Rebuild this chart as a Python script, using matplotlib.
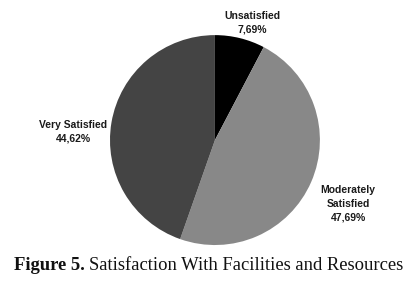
import matplotlib
matplotlib.use('Agg')
import matplotlib.pyplot as plt

# 데이터
categories = ['Unsatisfied', 'Moderately\nSatisfied', 'Very Satisfied']
values = [7.69, 47.69, 44.62]
value_labels = ['7,69%', '47,69%', '44,62%']
colors = ['#000000', '#888888', '#444444']

fig = plt.figure(figsize=(4.19, 2.90), dpi=100)
ax = fig.add_axes([0.2625, 0.155, 0.501, 0.724])

ax.pie(values, colors=colors, startangle=90, counterclock=False,
       wedgeprops={'linewidth': 0})
ax.set_xlim(-1, 1)
ax.set_ylim(-1, 1)
ax.set_aspect('equal')

label_font = {'family': ['Liberation Sans Narrow', 'Liberation Sans', 'DejaVu Sans'],
              'weight': 'bold', 'size': 7.5, 'color': '#1a1a1a'}
label_pos = [(0.36, 1.12), (1.27, -0.61), (-1.35, 0.08)]
for cat, lab, (x, y) in zip(categories, value_labels, label_pos):
    ax.text(x, y, f'{cat}\n{lab}', ha='center', va='center',
            linespacing=1.45, clip_on=False, **label_font)

# 캡션
serif = ['Liberation Serif', 'DejaVu Serif']
t1 = fig.text(0.034, 0.085, 'Figure 5.', fontsize=13.4, fontweight='bold',
              family=serif, va='center', color='#111111')
fig.canvas.draw()
bb = t1.get_window_extent()
x_next = (bb.x1 + 4) / fig.bbox.width
fig.text(x_next, 0.085, 'Satisfaction With Facilities and Resources',
         fontsize=13.4, family=serif, va='center', color='#111111')

fig.savefig('out.png', dpi=100)
